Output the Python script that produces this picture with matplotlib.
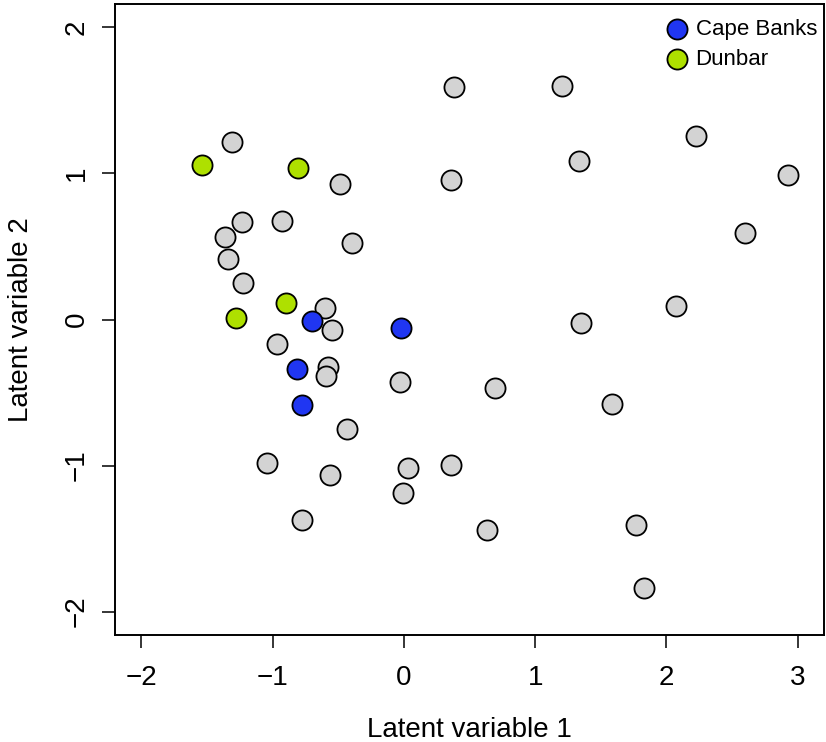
import matplotlib
matplotlib.use("Agg")
import matplotlib.pyplot as plt

plt.rcParams['font.family'] = ['Liberation Sans', 'DejaVu Sans']

# Site scores on the two latent variables
otherX = [0.380, 1.208, 2.226, 1.337, 2.926, 0.357, -0.486, -1.307, -1.231, -0.927,
          -1.360, -0.395, -1.337, -1.223, 2.599, 2.074, -0.600, -0.547, 1.353, -0.965,
          -0.578, -0.593, -0.030, 0.691, 1.588, -0.433, -1.041, 0.030, 0.357, -0.562,
          -0.008, -0.775, 0.631, 1.771, 1.831]
otherY = [1.595, 1.602, 1.259, 1.084, 0.988, 0.954, 0.926, 1.214, 0.669, 0.676,
          0.566, 0.525, 0.415, 0.250, 0.594, 0.093, 0.082, -0.072, -0.024, -0.168,
          -0.326, -0.388, -0.425, -0.466, -0.576, -0.751, -0.985, -1.019, -0.998, -1.067,
          -1.190, -1.375, -1.444, -1.410, -1.835]

capeX = [-0.699, -0.023, -0.813, -0.775]
capeY = [-0.010, -0.058, -0.340, -0.587]

dunbarX = [-1.535, -0.805, -0.897, -1.277]
dunbarY = [1.060, 1.040, 0.113, 0.010]

xTicks = [-2, -1, 0, 1, 2, 3]
yTicks = [-2, -1, 0, 1, 2]

fig = plt.figure(figsize=(8.26, 7.42), dpi=100)
ax = fig.add_axes([115 / 826, 107 / 742, 709 / 826, 631 / 742])

markerSize = 210
edge = 1.3
ax.scatter(otherX, otherY, s=markerSize, c='#d3d3d3', edgecolors='black', linewidths=edge, zorder=3)
ax.scatter(capeX, capeY, s=markerSize, c='#2036f2', edgecolors='black', linewidths=edge,
           zorder=4, label='Cape Banks')
ax.scatter(dunbarX, dunbarY, s=markerSize, c='#aee000', edgecolors='black', linewidths=edge,
           zorder=4, label='Dunbar')

# R style limits: -2..3 and -2..2 with 4% extension
ax.set_xlim(-2.2, 3.2)
ax.set_ylim(-2.16, 2.16)
ax.set_xticks(xTicks)
ax.set_yticks(yTicks)
ax.set_xticklabels([str(t).replace('-', '\u2212') for t in xTicks])
ax.set_yticklabels([str(t).replace('-', '\u2212') for t in yTicks], rotation=90, va='center')

ax.tick_params(labelsize=20, length=9.4, width=1.1)
ax.tick_params(axis='x', pad=12)
ax.tick_params(axis='y', pad=9)
for sp in ax.spines.values():
    sp.set_linewidth(1.4)

ax.set_xlabel('Latent variable 1', fontsize=20, labelpad=19)
ax.set_ylabel('Latent variable 2', fontsize=20, labelpad=21)

ax.legend(loc='upper right', bbox_to_anchor=(0.990, 0.976), frameon=False, fontsize=16,
          handletextpad=0.35, labelspacing=0.38, borderaxespad=0, borderpad=0,
          handlelength=1.0)

plt.savefig('out.png', dpi=100)
